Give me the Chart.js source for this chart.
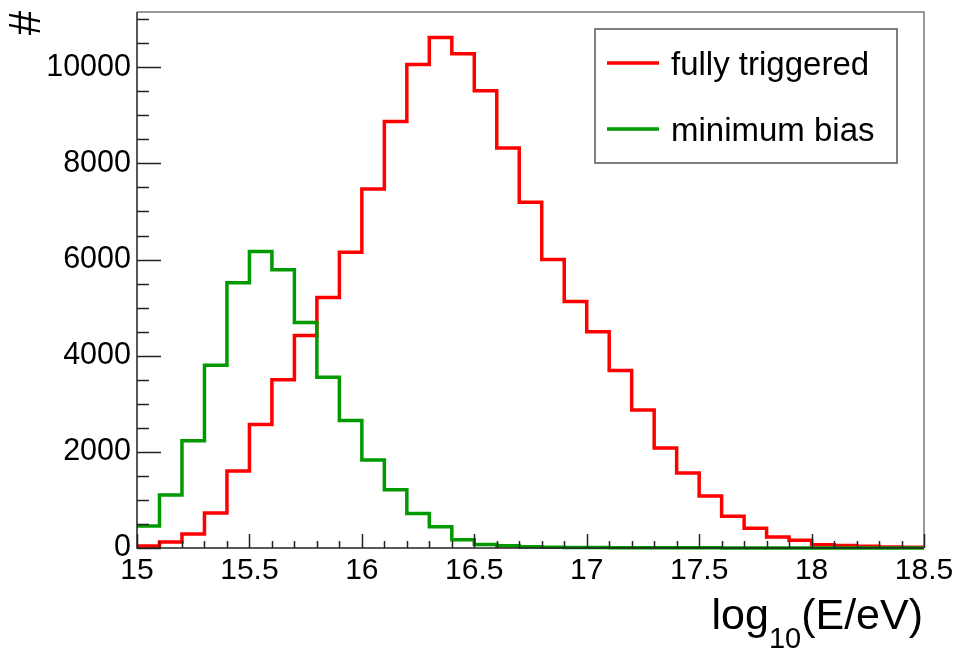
<!DOCTYPE html>
<html>
<head>
<meta charset="utf-8">
<script src="https://cdn.jsdelivr.net/npm/chart.js@4/dist/chart.umd.min.js"></script>
<style>
  html, body { margin: 0; padding: 0; background: #fff; }
  canvas { display: block; }
</style>
</head>
<body>
<canvas id="energyChart" width="961" height="652"></canvas>
<script>
// histogram bins: log10(E/eV) from 15 to 18.5, width 0.1
var binStart = 15;
var binWidth = 0.1;
var fullyTriggered = [40, 125, 290, 730, 1600, 2570, 3500, 4420, 5210, 6150,
  7470, 8870, 10060, 10620, 10280, 9510, 8320, 7190, 6000, 5130,
  4500, 3690, 2870, 2080, 1560, 1080, 660, 410, 230, 160,
  70, 50, 35, 20, 15];
var minimumBias = [460, 1100, 2230, 3800, 5520, 6170, 5790, 4690, 3550, 2650,
  1830, 1210, 720, 440, 170, 75, 45, 25, 15, 10,
  8, 6, 5, 4, 3, 3, 2, 2, 1, 1,
  1, 1, 0, 0, 0];
var xTickValues = [15, 15.5, 16, 16.5, 17, 17.5, 18, 18.5];
var xTickLabels = ['15', '15.5', '16', '16.5', '17', '17.5', '18', '18.5'];
var yTickValues = [0, 2000, 4000, 6000, 8000, 10000];
var yTickLabels = ['0', '2000', '4000', '6000', '8000', '10000'];
var legendLabels = ['fully triggered', 'minimum bias'];
var lineColors = ['#ff0000', '#009900'];

var FONT = '"Liberation Sans", Arial, Helvetica, sans-serif';

function toSteps(values) {
  var pts = values.map(function (v, i) {
    return { x: +(binStart + i * binWidth).toFixed(2), y: v };
  });
  pts.push({ x: +(binStart + values.length * binWidth).toFixed(2), y: values[values.length - 1] });
  return pts;
}

// ROOT-like frame, inward ticks, legend and titles
var rootStyle = {
  id: 'rootStyle',
  afterDraw: function (chart) {
    var ctx = chart.ctx;
    var a = chart.chartArea;
    var xs = chart.scales.x, ys = chart.scales.y;
    ctx.save();

    // frame
    ctx.lineWidth = 1.5;
    ctx.strokeStyle = '#777';
    ctx.beginPath();
    ctx.moveTo(a.left, a.top); ctx.lineTo(a.right, a.top); ctx.lineTo(a.right, a.bottom);
    ctx.stroke();
    ctx.strokeStyle = '#222';
    ctx.beginPath();
    ctx.moveTo(a.left, a.top); ctx.lineTo(a.left, a.bottom); ctx.lineTo(a.right, a.bottom);
    ctx.stroke();

    // y ticks (every 500, major every 2000)
    ctx.lineWidth = 1.5;
    for (var v = 0; v <= ys.max; v += 500) {
      var py = Math.round(ys.getPixelForValue(v)) + 0.5;
      var len = (v % 2000 === 0) ? 24 : 12;
      ctx.beginPath(); ctx.moveTo(a.left, py); ctx.lineTo(a.left + len, py); ctx.stroke();
    }
    // x ticks (every 0.1, major every 0.5)
    for (var i = 0; i <= 35; i++) {
      var xv = binStart + i * binWidth;
      var px = Math.round(xs.getPixelForValue(xv)) + 0.5;
      var l2 = (i % 5 === 0) ? 14 : 7;
      ctx.beginPath(); ctx.moveTo(px, a.bottom); ctx.lineTo(px, a.bottom - l2); ctx.stroke();
    }

    // legend
    var lx = 595, ly = 29, lw = 302, lh = 134;
    ctx.fillStyle = '#fff';
    ctx.fillRect(lx, ly, lw, lh);
    ctx.strokeStyle = '#555';
    ctx.lineWidth = 1.5;
    ctx.strokeRect(lx, ly, lw, lh);
    ctx.font = '33px ' + FONT;
    ctx.textBaseline = 'middle';
    ctx.textAlign = 'left';
    for (var k = 0; k < legendLabels.length; k++) {
      var yy = 63 + k * 66;
      ctx.strokeStyle = lineColors[k];
      ctx.lineWidth = 3.5;
      ctx.beginPath(); ctx.moveTo(607, yy); ctx.lineTo(659, yy); ctx.stroke();
      ctx.fillStyle = '#000';
      ctx.fillText(legendLabels[k], 671, yy + 3);
    }

    // x title: log_10(E/eV), right aligned
    ctx.fillStyle = '#000';
    ctx.textBaseline = 'alphabetic';
    ctx.textAlign = 'left';
    var big = '43px ' + FONT, small = '29px ' + FONT;
    ctx.font = big; var w1 = ctx.measureText('log').width; var w3 = ctx.measureText('(E/eV)').width;
    ctx.font = small; var w2 = ctx.measureText('10').width;
    var tx = 923 - (w1 + w2 + w3);
    ctx.font = big; ctx.fillText('log', tx, 629);
    ctx.font = small; ctx.fillText('10', tx + w1, 648);
    ctx.font = big; ctx.fillText('(E/eV)', tx + w1 + w2, 629);

    // y title "#" rotated
    ctx.save();
    ctx.translate(26, 23);
    ctx.rotate(-Math.PI / 2);
    ctx.font = '44px ' + FONT;
    ctx.textAlign = 'center';
    ctx.textBaseline = 'middle';
    ctx.fillText('#', 0, 2);
    ctx.restore();

    ctx.restore();
  }
};

new Chart(document.getElementById('energyChart').getContext('2d'), {
  type: 'line',
  data: {
    datasets: [{
      label: legendLabels[1],
      data: toSteps(minimumBias),
      borderColor: lineColors[1],
      borderWidth: 3.5,
      stepped: 'before',
      pointRadius: 0,
      fill: false,
      clip: 4,
      order: 0
    }, {
      label: legendLabels[0],
      data: toSteps(fullyTriggered),
      borderColor: lineColors[0],
      borderWidth: 3.5,
      stepped: 'before',
      pointRadius: 0,
      fill: false,
      clip: 4,
      order: 1
    }]
  },
  options: {
    responsive: false,
    animation: false,
    layout: { padding: { left: 0, top: 12, right: 37, bottom: 0 } },
    plugins: { legend: { display: false }, tooltip: { enabled: false } },
    scales: {
      x: {
        type: 'linear',
        min: 15,
        max: 18.5,
        grid: { display: false },
        border: { display: false },
        afterBuildTicks: function (s) { s.ticks = xTickValues.map(function (v) { return { value: v }; }); },
        afterFit: function (s) { s.height = 104; s.paddingLeft = 0; s.paddingRight = 0; },
        ticks: {
          autoSkip: false,
          maxRotation: 0,
          padding: -3,
          color: '#000',
          font: { family: FONT, size: 30 },
          callback: function (v, i) { return xTickLabels[i]; }
        }
      },
      y: {
        min: 0,
        max: 11150,
        grid: { display: false },
        border: { display: false },
        afterBuildTicks: function (s) { s.ticks = yTickValues.map(function (v) { return { value: v }; }); },
        afterFit: function (s) { s.width = 137; s.paddingTop = 0; s.paddingBottom = 0; },
        ticks: {
          autoSkip: false,
          padding: -2,
          color: '#000',
          font: { family: FONT, size: 30.5 },
          callback: function (v, i) { return yTickLabels[i]; }
        }
      }
    }
  },
  plugins: [rootStyle]
});
</script>
</body>
</html>
